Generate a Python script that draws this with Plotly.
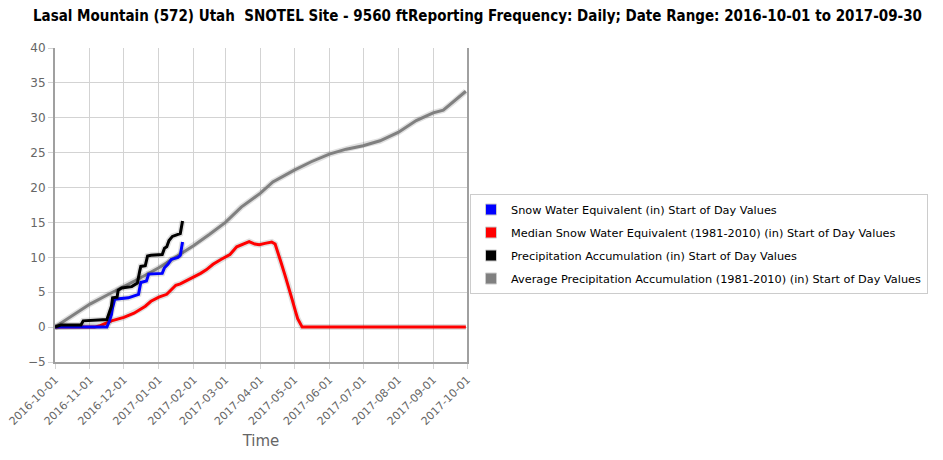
import plotly.graph_objects as go

TITLE = "Lasal Mountain (572) Utah  SNOTEL Site - 9560 ftReporting Frequency: Daily; Date Range: 2016-10-01 to 2017-09-30"

swe_dates = ["2016-10-01", "2016-11-16", "2016-11-18", "2016-11-20", "2016-11-21", "2016-11-23",
             "2016-12-05", "2016-12-14", "2016-12-16", "2016-12-21", "2016-12-23", "2017-01-04",
             "2017-01-06", "2017-01-09", "2017-01-12", "2017-01-18", "2017-01-20", "2017-01-22"]
swe_vals = [0.0, 0.0, 0.8, 1.8, 2.8, 4.0,
            4.2, 4.7, 6.4, 6.6, 7.6, 7.7,
            8.5, 9.0, 9.7, 10.0, 10.3, 12.2]

med_dates = ["2016-10-01", "2016-11-05", "2016-11-10", "2016-11-15", "2016-11-20", "2016-12-01",
             "2016-12-10", "2016-12-15", "2016-12-20", "2016-12-25", "2017-01-01", "2017-01-08",
             "2017-01-12", "2017-01-16", "2017-01-20", "2017-01-25", "2017-02-01", "2017-02-07",
             "2017-02-12", "2017-02-18", "2017-02-25", "2017-03-05", "2017-03-11", "2017-03-15",
             "2017-03-22", "2017-03-27", "2017-03-31", "2017-04-05", "2017-04-11", "2017-04-14",
             "2017-04-17", "2017-04-19", "2017-04-23", "2017-04-26", "2017-04-29", "2017-05-02",
             "2017-05-04", "2017-05-08", "2017-06-01", "2017-08-01", "2017-09-30"]
med_vals = [0.0, 0.0, 0.2, 0.5, 0.9, 1.4,
            2.0, 2.5, 3.0, 3.7, 4.3, 4.7,
            5.3, 6.0, 6.2, 6.6, 7.2, 7.7,
            8.2, 9.0, 9.7, 10.4, 11.5, 11.8,
            12.25, 11.9, 11.8, 12.0, 12.2, 11.9,
            10.5, 9.4, 7.3, 5.8, 4.0, 2.3,
            1.2, 0.0, 0.0, 0.0, 0.0]

prec_dates = ["2016-10-01", "2016-10-06", "2016-10-24", "2016-10-26", "2016-11-16", "2016-11-18",
              "2016-11-20", "2016-11-21", "2016-11-25", "2016-11-26", "2016-11-29", "2016-12-08",
              "2016-12-13", "2016-12-15", "2016-12-16", "2016-12-20", "2016-12-22", "2016-12-25",
              "2017-01-04", "2017-01-06", "2017-01-08", "2017-01-10", "2017-01-13", "2017-01-18",
              "2017-01-20", "2017-01-22"]
prec_vals = [0.0, 0.3, 0.3, 0.9, 1.1, 2.0,
             3.0, 4.2, 4.3, 5.3, 5.6, 5.8,
             6.3, 8.0, 8.7, 8.8, 10.2, 10.3,
             10.4, 11.3, 11.5, 12.4, 13.0, 13.3,
             13.4, 15.2]

avg_dates = ["2016-10-01", "2016-10-15", "2016-11-01", "2016-11-15", "2016-12-01", "2016-12-15",
             "2017-01-01", "2017-01-15", "2017-02-01", "2017-02-15", "2017-03-01", "2017-03-15",
             "2017-04-01", "2017-04-12", "2017-05-01", "2017-05-16", "2017-06-01", "2017-06-16",
             "2017-07-01", "2017-07-16", "2017-08-01", "2017-08-17", "2017-09-01", "2017-09-10",
             "2017-09-20", "2017-09-30"]
avg_vals = [0.0, 1.5, 3.3, 4.5, 5.8, 7.0,
            8.5, 9.9, 11.7, 13.3, 15.0, 17.2,
            19.2, 20.8, 22.5, 23.7, 24.8, 25.5,
            26.0, 26.7, 27.9, 29.6, 30.7, 31.1,
            32.4, 33.8]

series = [
    ("Snow Water Equivalent (in) Start of Day Values", swe_dates, swe_vals, "#0000ff"),
    ("Median Snow Water Equivalent (1981-2010) (in) Start of Day Values", med_dates, med_vals, "#ff0000"),
    ("Precipitation Accumulation (in) Start of Day Values", prec_dates, prec_vals, "#000000"),
    ("Average Precipitation Accumulation (1981-2010) (in) Start of Day Values", avg_dates, avg_vals, "#808080"),
]

fig = go.Figure()
# draw order: gray first (background), then red, blue, black
draw_order = [3, 1, 0, 2]
for i in draw_order:
    name, xs, ys, col = series[i]
    fig.add_trace(go.Scatter(x=xs, y=ys, mode="lines", showlegend=False, hoverinfo="skip",
                             line=dict(color="rgba(0,0,0,0.12)", width=6)))
    fig.add_trace(go.Scatter(x=xs, y=ys, mode="lines", name=name, showlegend=False,
                             line=dict(color=col, width=3)))
for k, (name, xs, ys, col) in enumerate(series):
    fig.add_trace(go.Scatter(x=[None], y=[None], mode="markers", name=name, legendgroup=f"g{k}",
                             marker=dict(symbol="square", size=11, color=col,
                                         line=dict(color="#cccccc", width=1))))

W, H = 935, 452
fig.update_layout(
    width=W, height=H,
    margin=dict(l=47, r=W - 459, t=40, b=H - 354, autoexpand=False),
    paper_bgcolor="white", plot_bgcolor="white",
    title=dict(text=f"<b>{TITLE}</b>", xref="container", yref="container",
               x=0.0267, xanchor="left", y=0.995, yanchor="top",
               font=dict(family="Liberation Sans Narrow, DejaVu Sans Condensed", size=15, color="#000")),
    legend=dict(xref="container", yref="container", x=462 / W, xanchor="left",
                y=1 - 186 / H, yanchor="top",
                bordercolor="#cccccc", borderwidth=1, bgcolor="white",
                font=dict(family="DejaVu Sans", size=11.3, color="#000"),
                traceorder="grouped", tracegroupgap=4, itemwidth=30),
    showlegend=True,
)
fig.update_xaxes(
    type="date", range=["2016-10-01", "2017-10-01"], dtick="M1", tick0="2016-10-01",
    tickformat="%Y-%m-%d", tickangle=-45, automargin=False, ticklabeloverflow="allow",
    showgrid=True, gridcolor="#d3d3d3", gridwidth=1,
    showline=True, linecolor="#a0a0a0", linewidth=2, mirror=False,
    ticks="outside", ticklen=5, tickcolor="#d3d3d3",
    tickfont=dict(family="DejaVu Sans", size=11, color="#666666"),
    title=dict(text="Time", font=dict(family="DejaVu Sans", size=15, color="#666666"), standoff=9),
    zeroline=False,
)
fig.update_yaxes(
    range=[-5, 40], dtick=5, tick0=0, automargin=False,
    showgrid=True, gridcolor="#d3d3d3", gridwidth=1,
    showline=True, linecolor="#a0a0a0", linewidth=2, mirror=True,
    ticks="outside", ticklen=5, tickcolor="#d3d3d3",
    tickfont=dict(family="DejaVu Sans", size=12, color="#666666"),
    zeroline=False,
)
fig.write_html("out.html")
